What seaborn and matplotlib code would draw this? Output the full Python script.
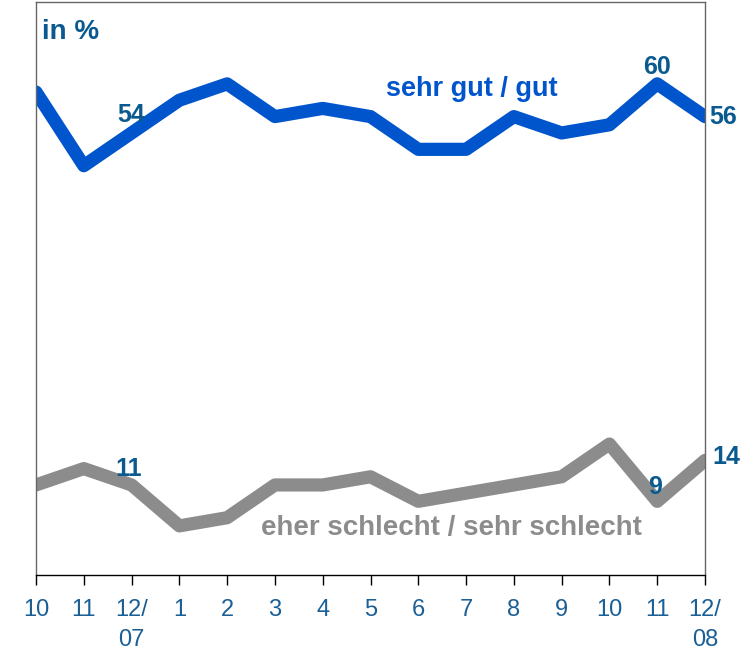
import numpy as np
import pandas as pd
import matplotlib
matplotlib.use("Agg")
import matplotlib.pyplot as plt
import seaborn as sns

# Monats-Labels (10/2007 bis 12/2008)
months = ["10", "11", "12/\n07", "1", "2", "3", "4", "5", "6", "7", "8", "9", "10", "11", "12/\n08"]
gut = [59, 50, 54, 58, 60, 56, 57, 56, 52, 52, 56, 54, 55, 60, 56]
schlecht = [11, 13, 11, 6, 7, 11, 11, 12, 9, 10, 11, 12, 16, 9, 14]

BLUE = "#0055cc"
GRAY = "#8c8c8c"
LABEL = "#0b5a8f"

sns.set_style("white")
plt.rcParams['font.family'] = ['Liberation Sans', 'DejaVu Sans']

df = pd.DataFrame({
    "idx": list(range(len(months))) * 2,
    "wert": gut + schlecht,
    "serie": ["sehr gut / gut"] * len(gut) + ["eher schlecht / sehr schlecht"] * len(schlecht),
})

fig = plt.figure(figsize=(7.45, 6.5), dpi=100)
ax = fig.add_axes([36 / 745, 75 / 650, 669 / 745, 573 / 650])

sns.lineplot(data=df, x="idx", y="wert", hue="serie",
             palette={"sehr gut / gut": BLUE, "eher schlecht / sehr schlecht": GRAY},
             linewidth=9.5, legend=False, ax=ax, estimator=None)

ax.set_xlim(0, len(months) - 1)
ax.set_ylim(0, 70)
ax.set_xticks(range(len(months)))
ax.set_xticklabels(months, color="#1a5f96", fontsize=17, linespacing=1.5)
ax.set_yticks([])
ax.set_xlabel("")
ax.set_ylabel("")
ax.tick_params(axis="x", direction="out", length=7, width=1, color="black", pad=10, bottom=True)

for side in ["left", "top", "right"]:
    ax.spines[side].set_color("#666666")
    ax.spines[side].set_linewidth(1)
ax.spines["bottom"].set_color("black")
ax.spines["bottom"].set_linewidth(1)

# Werte-Beschriftungen
lab = dict(color=LABEL, fontsize=18, fontweight="bold")
ax.text(2, gut[2] + 0.7, str(gut[2]), ha="center", va="bottom", **lab)
ax.text(13, gut[13] + 0.6, str(gut[13]), ha="center", va="bottom", **lab)
ax.text(14.1, gut[14], str(gut[14]), ha="left", va="center", clip_on=False, **lab)
ax.text(1.95, schlecht[2] + 0.45, str(schlecht[2]), ha="center", va="bottom", **lab)
ax.text(12.95, schlecht[13] + 1.8, str(schlecht[13]), ha="center", va="center", **lab)
ax.text(14.15, schlecht[14] + 0.4, str(schlecht[14]), ha="left", va="center", clip_on=False, **lab)

ax.text(0.13, 66.3, "in %", color=LABEL, fontsize=20, fontweight="bold", ha="left", va="center")
ax.text(7.33, 59.4, "sehr gut / gut", color=BLUE, fontsize=19.5, fontweight="bold", ha="left", va="center")
ax.text(4.7, 5.8, "eher schlecht / sehr schlecht", color=GRAY, fontsize=20, fontweight="bold", ha="left", va="center")

plt.savefig("out.png", dpi=100)
plt.close()
